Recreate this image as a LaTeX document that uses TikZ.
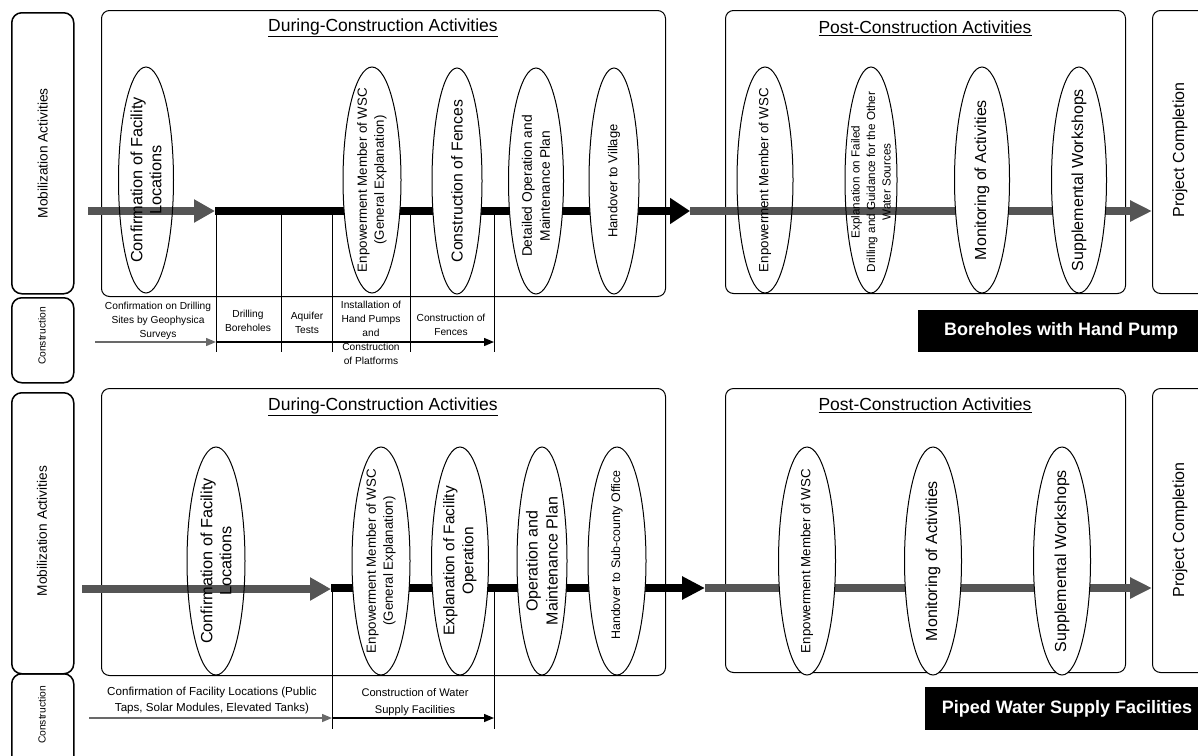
\documentclass[tikz,border=0pt]{standalone}
\usepackage{fontspec}
\setmainfont{Liberation Sans}
\usetikzlibrary{arrows.meta,shapes.geometric}
\definecolor{gbar}{RGB}{85,85,85}
\definecolor{gthin}{RGB}{105,105,105}
\newcommand{\fsz}[2]{\fontsize{#1pt}{#2pt}\selectfont}
\begin{document}
\begin{tikzpicture}[x=1pt,y=-1pt,
  frame/.style={draw, rounded corners=8pt, line width=1pt, anchor=north west, inner sep=0pt},
  side/.style={draw, rounded corners=10pt, line width=1.5pt, anchor=north west, inner sep=0pt, minimum width=62pt},
  oval/.style={ellipse, draw, line width=1pt, minimum height=226pt, minimum width=56pt, inner sep=0pt},
  wf/.style={fill=white},
  vlabel/.style={rotate=90, inner sep=0pt, align=center},
  title/.style={inner sep=0pt, font=\fsz{17.5}{20}},
  ctext/.style={inner sep=0pt, align=center, font=\fsz{10.2}{14}},
  ctextb/.style={inner sep=0pt, align=center, font=\fsz{11.6}{16}},
  vline/.style={line width=1pt},
  bar/.style={line width=8pt},
  thinarrow/.style={line width=1.4pt, -{Triangle[length=10pt,width=8pt]}},
  tagbox/.style={fill=black, anchor=north west, inner sep=0pt, minimum width=300pt},
  tagtext/.style={text=white, inner sep=0pt, font=\bfseries\fsz{18}{20}},
]
\useasboundingbox (0,0) rectangle (1198,755);

% ================= TOP : Boreholes with Hand Pump =================
\node[side, minimum height=281pt] (mob1) at (11,12) {};
\node[vlabel, font=\fsz{13.7}{16}] (mob1t) at (mob1.center) {Mobilization Activities};
\node[side, minimum height=85pt] (con1) at (11,297) {};
\node[vlabel, font=\fsz{10.3}{12}] (con1t) at (42,336) {Construction};

\node[frame, minimum width=564pt, minimum height=286pt] (dc1) at (101,10) {};
\node[title] (dc1t) at (383,28) {\underline{During-Construction Activities}};
\node[frame, minimum width=400pt, minimum height=283pt] (pc1) at (725,10) {};
\node[title] (pc1t) at (925,28) {\underline{Post-Construction Activities}};
\node[frame, minimum width=80pt, minimum height=283pt] (done1) at (1152,10) {};
\node[vlabel, font=\fsz{16}{18}] (done1t) at (1180,150) {Project Completion};

% main bars
\coordinate (a0) at (88,211);
\coordinate (a1) at (215,211);
\coordinate (a2) at (690,211);
\coordinate (a3) at (1152,211);
\draw[bar, gbar, -{Triangle[length=21pt,width=22pt]}] (a0) -- (a1);
\draw[bar, -{Triangle[length=20pt,width=25pt]}] (a1) -- (a2);
\draw[bar, gbar, -{Triangle[length=22pt,width=20pt]}] (a2) -- (a3);

% construction schedule (top)
\foreach \n/\x in {1/216,2/281,3/332,4/410,5/494}{
  \coordinate (tv\n) at (\x,211);
  \coordinate (tb\n) at (\x,352);
  \draw[vline] (tv\n) -- (tb\n);
}
\coordinate (ts) at (95,342);
\coordinate (tm) at (216,342);
\coordinate (te) at (494,342);
\draw[thinarrow, gthin] (ts) -- (tm);
\draw[thinarrow] (tm) -- (te);

\node[ctext] (c11) at (158,321) {Confirmation on Drilling\\Sites by Geophysica\\Surveys};
\node[ctext] (c12) at (248,321) {Drilling\\Boreholes};
\node[ctext] (c13) at (307,323) {Aquifer\\Tests};
\node[ctext] (c14) at (371,333) {Installation of\\Hand Pumps\\and\\Construction\\of Platforms};
\node[ctext] (c15) at (451,325) {Construction of\\Fences};

% ovals (top, during)
\node[oval, minimum width=55pt] (e11) at (146,180) {};
\node[vlabel, font=\fsz{16.3}{19}] (e11t) at (e11.center) {Confirmation of Facility\\Locations};
\node[oval, wf, minimum width=58pt] (e12) at (372,180) {};
\node[vlabel, font=\fsz{13.3}{17}] (e12t) at (e12.center) {Enpowerment Member of WSC\\(General Explanation)};
\node[oval, wf, minimum width=50pt] (e13) at (457,181) {};
\node[vlabel, font=\fsz{15.8}{18}] (e13t) at (e13.center) {Construction of Fences};
\node[oval, wf, minimum width=55pt] (e14) at (536,181) {};
\node[vlabel, font=\fsz{13.8}{18}] (e14t) at (536,186) {Detailed Operation and\\Maintenance Plan};
\node[oval, wf, minimum width=50pt] (e15) at (614,181) {};
\node[vlabel, font=\fsz{13}{16}] (e15t) at (e15.center) {Handover to Village};
% ovals (top, post)
\node[oval, minimum width=56pt] (e16) at (765,180) {};
\node[vlabel, font=\fsz{13.3}{16}] (e16t) at (e16.center) {Enpowerment Member of WSC};
\node[oval, minimum width=52pt] (e17) at (871,180) {};
\node[vlabel, font=\fsz{11.7}{15.5}] (e17t) at (871,182) {Explanation on Failed\\Drilling and Guidance for the Other\\Water Sources};
\node[oval, wf, minimum width=55pt] (e18) at (982,180) {};
\node[vlabel, font=\fsz{16}{18}] (e18t) at (e18.center) {Monitoring of Activities};
\node[oval, wf, minimum width=55pt] (e19) at (1079,180) {};
\node[vlabel, font=\fsz{16}{18}] (e19t) at (e19.center) {Supplemental Workshops};

\node[tagbox, minimum height=42pt] (tag1) at (918,310) {};
\node[tagtext] (tag1t) at (1061,331) {Boreholes with Hand Pump};

% ================= BOTTOM : Piped Water Supply Facilities =================
\node[side, minimum height=281pt] (mob2) at (11,392) {};
\node[vlabel, font=\fsz{13.7}{16}] (mob2t) at (42,531) {Mobilization Activities};
\node[side, minimum height=100pt] (con2) at (11,673) {};
\node[vlabel, font=\fsz{10.3}{12}] (con2t) at (42,715) {Construction};

\node[frame, minimum width=564pt, minimum height=287pt] (dc2) at (101,388) {};
\node[title] (dc2t) at (383,407) {\underline{During-Construction Activities}};
\node[frame, minimum width=400pt, minimum height=284pt] (pc2) at (725,388) {};
\node[title] (pc2t) at (925,405) {\underline{Post-Construction Activities}};
\node[frame, minimum width=80pt, minimum height=284pt] (done2) at (1152,388) {};
\node[vlabel, font=\fsz{16}{18}] (done2t) at (1180,530) {Project Completion};

\coordinate (b0) at (82,589);
\coordinate (b1) at (331,589);
\coordinate (b1b) at (331,588);
\coordinate (b2) at (705,588);
\coordinate (b3) at (1152,588);
\draw[bar, gbar, -{Triangle[length=21pt,width=22pt]}] (b0) -- (b1);
\draw[bar, -{Triangle[length=23pt,width=22pt]}] (b1b) -- (b2);
\draw[bar, gbar, -{Triangle[length=22pt,width=20pt]}] (b2) -- (b3);

\foreach \n/\x in {1/332,2/494}{
  \coordinate (bv\n) at (\x,588);
  \coordinate (bb\n) at (\x,729);
  \draw[vline] (bv\n) -- (bb\n);
}
\coordinate (bs) at (89,718);
\coordinate (bm) at (332,718);
\coordinate (be) at (494,718);
\draw[thinarrow, gthin] (bs) -- (bm);
\draw[thinarrow] (bm) -- (be);

\node[ctextb] (c21) at (212,700) {Confirmation of Facility Locations (Public\\Taps, Solar Modules, Elevated Tanks)};
\node[ctextb, font=\fsz{11.1}{17}] (c22) at (415,702) {Construction of Water\\Supply Facilities};

\node[oval, minimum height=228pt, minimum width=58pt] (e21) at (216,561) {};
\node[vlabel, font=\fsz{16.3}{19}] (e21t) at (e21.center) {Confirmation of Facility\\Locations};
\node[oval, wf, minimum height=228pt, minimum width=58pt] (e22) at (381,561) {};
\node[vlabel, font=\fsz{13.3}{17}] (e22t) at (e22.center) {Enpowerment Member of WSC\\(General Explanation)};
\node[oval, wf, minimum height=228pt, minimum width=57pt] (e23) at (460,561) {};
\node[vlabel, font=\fsz{15.4}{19}] (e23t) at (e23.center) {Explanation of Facility\\Operation};
\node[oval, wf, minimum height=228pt, minimum width=50pt] (e24) at (542,561) {};
\node[vlabel, font=\fsz{16}{20}] (e24t) at (e24.center) {Operation and\\Maintenance Plan};
\node[oval, wf, minimum height=228pt, minimum width=58pt] (e25) at (617,561) {};
\node[vlabel, font=\fsz{12.4}{15}] (e25t) at (617,555) {Handover to Sub-county Office};
\node[oval, wf, minimum height=228pt, minimum width=57pt] (e26) at (807,561) {};
\node[vlabel, font=\fsz{13.3}{16}] (e26t) at (e26.center) {Enpowerment Member of WSC};
\node[oval, wf, minimum height=228pt, minimum width=57pt] (e27) at (933,561) {};
\node[vlabel, font=\fsz{16}{18}] (e27t) at (e27.center) {Monitoring of Activities};
\node[oval, wf, minimum height=228pt, minimum width=57pt] (e28) at (1062,561) {};
\node[vlabel, font=\fsz{16}{18}] (e28t) at (e28.center) {Supplemental Workshops};

\node[tagbox, minimum height=43pt] (tag2) at (925,687) {};
\node[tagtext] (tag2t) at (1067,709) {Piped Water Supply Facilities};
\end{tikzpicture}
\end{document}
